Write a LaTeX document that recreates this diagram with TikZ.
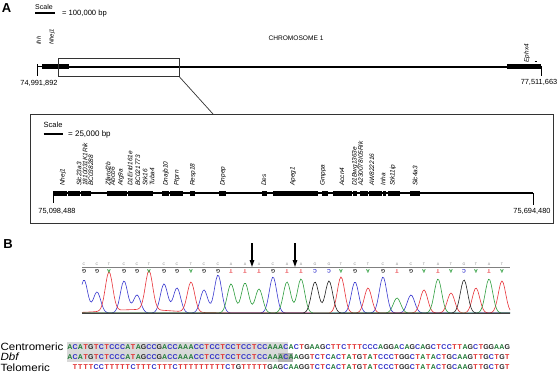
\documentclass[tikz,border=0pt]{standalone}
\usepackage{fontspec}
\setmainfont{Liberation Sans}
\usetikzlibrary{arrows.meta}
\definecolor{chA}{HTML}{2E9E3E}
\definecolor{chC}{HTML}{3A3AD0}
\definecolor{chG}{HTML}{222222}
\definecolor{chT}{HTML}{E8333A}
\definecolor{sqA}{HTML}{1F7A35}
\definecolor{sqC}{HTML}{2E2EC8}
\definecolor{sqG}{HTML}{2A2A2A}
\definecolor{sqT}{HTML}{E02828}
\definecolor{frame}{HTML}{333333}
\def\seqchar#1{\makebox[5.27pt]{\color{sq#1}#1}}
\def\seqrun#1{\ifx#1\relax\else\seqchar{#1}\expandafter\seqrun\fi}
\begin{document}
\begin{tikzpicture}[x=1pt,y=-1pt,
  declare function={pk(\xx,\cc,\hh)=\hh*exp(0-((\xx-\cc)/5.2)^2);},
  panel/.style={font=\fontsize{13}{13}\selectfont\bfseries, inner sep=0pt},
  scaletxt/.style={font=\fontsize{7}{8}\selectfont, inner sep=0pt},
  eqtxt/.style={font=\fontsize{7.6}{8}\selectfont, anchor=west, inner sep=0pt},
  poslbl/.style={font=\fontsize{7.4}{8}\selectfont, inner sep=0pt},
  genelbl/.style={rotate=90, anchor=west, inner sep=0pt, font=\fontsize{6.5}{6.5}\selectfont\itshape},
  chromline/.style={line width=2.2pt},
  chromblock/.style={fill=black},
  tickline/.style={line width=0.8pt},
  framebox/.style={draw=frame, line width=0.8pt},
  topbase/.style={font=\fontsize{3.6}{4}\selectfont, text=gray, inner sep=0pt},
  botbase/.style={font=\fontsize{5.2}{5.5}\selectfont\bfseries, inner sep=0pt, rotate=180},
  trace/.style={line width=0.6pt},
  seqlbl/.style={font=\fontsize{10.5}{11}\selectfont, anchor=west, inner sep=0pt, xscale=1.1},
  seqtxt/.style={font=\fontsize{7}{7}\selectfont\bfseries, anchor=west, inner sep=0pt},
  arrowdown/.style={line width=1.3pt, -{Triangle[length=7pt,width=4.5pt]}}
]
\useasboundingbox (0,0) rectangle (559,377);
\fill[white] (0,0) rectangle (559,377);

% ---------------- Panel A ----------------
\node[panel] (lblA) at (6.5,8) {A};
\node[scaletxt, anchor=west] (sc1) at (35,7) {Scale};
\coordinate (sb1a) at (35,12.8);
\coordinate (sb1b) at (55,12.8);
\draw[line width=1.6pt] (sb1a) -- (sb1b);
\node[eqtxt] (eq1) at (62,13.5) {= 100,000 bp};

\node[font=\fontsize{6.6}{7}\selectfont, inner sep=0pt] (chrname) at (296,38.5) {CHROMOSOME 1};

% main chromosome
\coordinate (m0) at (37,66.7);
\coordinate (m1) at (42,66.7);
\coordinate (m2) at (541,66.7);
\draw[line width=0.9pt] (m0) -- (m1);
\draw[chromline] (m1) -- (m2);
\fill[chromblock] (42,64.2) rectangle (69,69.2);
\fill[chromblock] (507,64) rectangle (540.5,69.4);
\draw[tickline] (37,64.5) -- (37,76.5);
\draw[tickline] (541.5,66) -- (541.5,76.5);
\draw[line width=0.6pt] (534.5,61) -- (537,61);
\node[poslbl] (p1) at (39,83) {74,991,892};
\node[poslbl] (p2) at (539,82.5) {77,511,663};
\node[genelbl, font=\fontsize{6}{6.5}\selectfont\itshape] (tg1) at (38.8,45) {Ihh};
\node[genelbl, font=\fontsize{6}{6.5}\selectfont\itshape] (tg2) at (52,45) {Nhej1};
\node[genelbl, font=\fontsize{6.4}{6.5}\selectfont\itshape] (tg3) at (527,62.5) {Ephx4};

% zoom box and link
\draw[framebox] (58.3,58.3) rectangle (179.3,76.7);
\coordinate (zc) at (179.3,76.7);
\coordinate (ic) at (213,114);
\draw[frame, line width=0.7pt] (zc) -- (ic);

% inset
\draw[framebox] (30,114) rectangle (553,223);
\node[scaletxt, font=\fontsize{7.5}{8}\selectfont, anchor=west] (sc2) at (43.5,125) {Scale};
\coordinate (sb2a) at (43.5,133.8);
\coordinate (sb2b) at (63,133.8);
\draw[line width=1.6pt] (sb2a) -- (sb2b);
\node[eqtxt, font=\fontsize{8}{8}\selectfont] (eq2) at (68,134.3) {= 25,000 bp};

\coordinate (i0) at (53.5,193);
\coordinate (i1) at (533,193);
\draw[line width=1.2pt] (i0) -- (i1);
\foreach \xa/\xb in {53/67,68/80,81/91,107/127,128/153,162/169,170/183,190/195,219/226,262/267,273/318,322/328,333/352,353/357,360/368,369/382,383/386,388/400,410/420}
  \fill[chromblock] (\xa,190.5) rectangle (\xb,195.5);
\draw[tickline] (53.5,193) -- (53.5,203);
\draw[tickline] (533,193) -- (533,205);
\node[poslbl] (p3) at (57,211) {75,098,488};
\node[poslbl] (p4) at (532,211) {75,694,480};

\foreach \gx/\gn [count=\k] in {63/Nhej1, 79/Slc23a3, 85/1810031K1Rik, 91/BC038288, 108/Zfand2b, 112.5/Abcb6, 121/Atg9a, 130/D1Ertd161e, 138/BC021773, 145/Stk16, 152/Tuba4, 166/Dnajb10, 177/Ptprn, 193/Resp18, 223/Dnpep, 264/Des, 293/Apeg1, 323/Gmppa, 342/Accn4, 355/D1Bwg1363e, 360.5/A230078I05Rik, 372/AW822216, 383/Inha, 393/Stk11ip, 415/Slc4a3}
  \node[genelbl] (ig\k) at (\gx,186) {\gn};

% ---------------- Panel B ----------------
\node[panel] (lblB) at (8,244) {B};

% traces
\draw[trace, chC] plot[domain=82:510, samples=320] (\x, {313 - pk(\x,84,33) - pk(\x,97,21) - pk(\x,124,32) - pk(\x,137,18) - pk(\x,164,29) - pk(\x,177,25) - pk(\x,204,23) - pk(\x,218,38) - pk(\x,273,36) - pk(\x,355,31) - pk(\x,383,36) - pk(\x,411,18)});
\draw[trace, chT] plot[domain=82:510, samples=320] (\x, {313 - pk(\x,109,39) - pk(\x,149,39) - pk(\x,191,30) - pk(\x,341,36) - pk(\x,368,25) - pk(\x,424,23) - pk(\x,451,20) - pk(\x,476,25) - pk(\x,502,32) - 3.5*exp(0-((\x-140)/45)^2)});
\draw[trace, chA] plot[domain=82:510, samples=320] (\x, {313 - pk(\x,231,29) - pk(\x,245,30) - pk(\x,259,24) - pk(\x,287,31) - pk(\x,301,34) - pk(\x,397,15) - pk(\x,438,34) - pk(\x,489,34)});
\draw[trace, chG] plot[domain=82:510, samples=320] (\x, {313 - pk(\x,315,31) - pk(\x,329,32) - pk(\x,464,33)});

\coordinate (ct0) at (82,267);
\coordinate (ct1) at (510,267);
\coordinate (cb0) at (82,313.3);
\coordinate (cb1) at (510,313.3);
\draw[gray, line width=0.7pt] (ct0) -- (ct1);
\draw[black!75, line width=1pt] (cb0) -- (cb1);

\foreach \bx/\b/\c [count=\i] in {84/C/G,97/C/G,109/T/A,124/C/G,137/C/G,149/T/A,164/C/G,177/C/G,191/T/A,204/C/G,218/C/G,231/A/T,245/A/T,259/A/T,273/C/G,287/A/T,301/A/T,315/G/C,329/G/C,341/T/A,355/C/G,368/T/A,383/C/G,397/A/T,411/C/G,424/T/A,438/A/T,451/T/A,464/G/C,476/T/A,489/A/T,502/T/A}
{
  \node[topbase] (tb\i) at (\bx,264) {\b};
  \node[botbase, text=ch\c] (bb\i) at (\bx,270.8) {\c};
}

\coordinate (ar1s) at (252,243);
\coordinate (ar1e) at (252,267);
\coordinate (ar2s) at (295,243);
\coordinate (ar2e) at (295,267);
\draw[arrowdown] (ar1s) -- (ar1e);
\draw[arrowdown] (ar2s) -- (ar2e);

% alignment
\fill[black!15] (66.5,341.5) rectangle (288,362);
\fill[black!30] (277.5,352.5) rectangle (293,362);
\node[seqlbl] (lc) at (0.3,347) {Centromeric};
\node[seqlbl] (ld) at (0.3,357) {\itshape Dbf};
\node[seqlbl] (lt) at (0.3,367.5) {Telomeric};
\node[seqtxt] (sc) at (67,347) {\seqrun ACATGTCTCCCATAGCCGACCAAACCTCCTCCTCCTCCAAACACTGAAGCTTCTTTCCCAGGACAGCAGCTCCTTAGCTGGAAG\relax};
\node[seqtxt] (sd) at (67,357) {\seqrun ACATGTCTCCCATAGCCGACCAAACCTCCTCCTCCTCCAAACAAGGTCTCACTATGTATCCCTGGCTATACTGCAAGTTGCTGT\relax};
\node[seqtxt] (st) at (72.27,367.5) {\seqrun TTTTCCTTTTTCTTTCTTTCTTTTTTTTTCTGTTTTTGAGCAAGGTCTCACTATGTATCCCTGGCTATACTGCAAGTTGCTGT\relax};
\end{tikzpicture}
\end{document}
